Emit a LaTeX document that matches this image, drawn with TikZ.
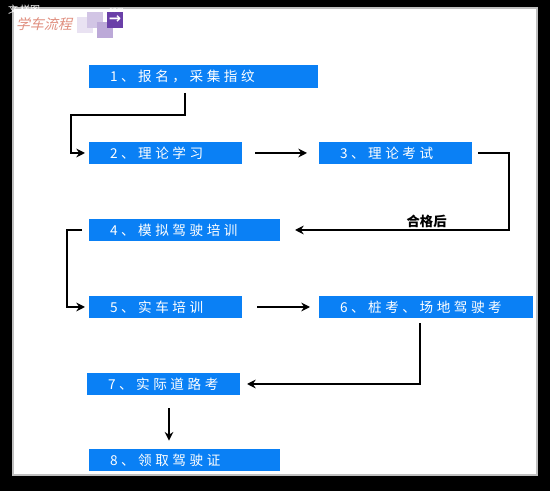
\documentclass[tikz,border=0pt]{standalone}
\usepackage{fontspec}
\setmainfont{Noto Sans CJK SC}
\newfontfamily\boxfont[LetterSpace=26]{Noto Sans CJK SC}
\newfontfamily\logofont[FakeSlant=0.25]{Noto Sans CJK SC}
\newfontfamily\arrowfont{DejaVu Sans}
\usepackage{tikz}
\usetikzlibrary{arrows.meta, calc}
\definecolor{boxblue}{HTML}{0A80F5}
\definecolor{logored}{HTML}{E08E7E}
\definecolor{logopurple}{HTML}{6A3FA8}

\begin{document}
\begin{tikzpicture}[
    x=0.75pt, y=-0.75pt,
    every node/.style={inner sep=0pt, outer sep=0pt},
    stagebox/.style={fill=boxblue, minimum height=17pt, text=white, anchor=west,
                     text width=#1, align=left,
                     execute at begin node={\hspace*{15.75pt}},
                     font=\fontsize{10.2pt}{11pt}\boxfont},
    flow/.style={-{Stealth[length=6.5pt,width=6.5pt]}, line width=1.5pt, black},
    square/.style={minimum size=12pt},
    edgelbl/.style={font=\fontsize{10pt}{11pt}\bfseries, text=black},
]

% --------- Page ----------
\fill[black] (0,0) rectangle (550,491);
\draw[gray!50, line width=1pt, fill=white] (13,8) rectangle (537,475);
\useasboundingbox (0,0) rectangle (550,491);

% --------- Logo ----------
\node[text=logored, font=\fontsize{10.5pt}{12pt}\logofont, anchor=west] (logo) at (16,24) {学车流程};
\node[square, fill=logopurple!15]                   (sqa) at (84.5,25.5) {};
\node[square, fill=logopurple!30]                   (sqb) at (95,20) {};
\node[square, fill=logopurple!45]                   (sqc) at (105,30) {};
\node[square, fill=logopurple, text=white,
      font=\fontsize{11pt}{11pt}\arrowfont\bfseries] (sqd) at (115,20) {→};
\node[text=white, font=\fontsize{7.5pt}{8pt}\selectfont, anchor=west] (mark) at (8,10) {文 样图};
\node[text=white, font=\fontsize{5.5pt}{6pt}\selectfont, anchor=west] (com)  at (109,10.5) {com};

% --------- Stages ----------
\node[stagebox=171.75pt] (s1) at (89,76.5)  {1、报名，采集指纹};
\node[stagebox=114.75pt] (s2) at (89,153)   {2、理论学习};
\node[stagebox=114.75pt] (s3) at (319,153)  {3、理论考试};
\node[stagebox=143.25pt] (s4) at (89,230)   {4、模拟驾驶培训};
\node[stagebox=114.75pt] (s5) at (89,307)   {5、实车培训};
\node[stagebox=160.5pt]  (s6) at (319,307)  {6、桩考、场地驾驶考};
\node[stagebox=114.75pt] (s7) at (87,384)   {7、实际道路考};
\node[stagebox=143.25pt] (s8) at (89,460)   {8、领取驾驶证};

% --------- Arrows ----------
\draw[flow] ($(s1.south)+(-18.5,5)$) -- ++(0,22) -| ($(s2.west)+(-18,0)$) -- ($(s2.west)+(-4,0)$);
\draw[flow] ($(s2.east)+(13,0)$) -- ($(s3.west)+(-12,0)$);
\draw[flow] ($(s3.east)+(6,0)$) -| ($(s4.east)+(229,0)$) -- ($(s4.east)+(15,0)$)
      node[edgelbl, pos=0.385, above=2pt] (pass) {合格后};
\draw[flow] ($(s4.west)+(-7,0)$) -- ++(-15,0) |- ($(s5.west)+(-4,0)$);
\draw[flow] ($(s5.east)+(15,0)$) -- ($(s6.west)+(-9,0)$);
\draw[flow] ($(s6.south)+(-6,5)$) |- ($(s7.east)+(7,0)$);
\draw[flow] ($(s7.south)+(5.5,13)$) -- ($(s8.north)+(-15.5,-8)$);

\end{tikzpicture}
\end{document}
